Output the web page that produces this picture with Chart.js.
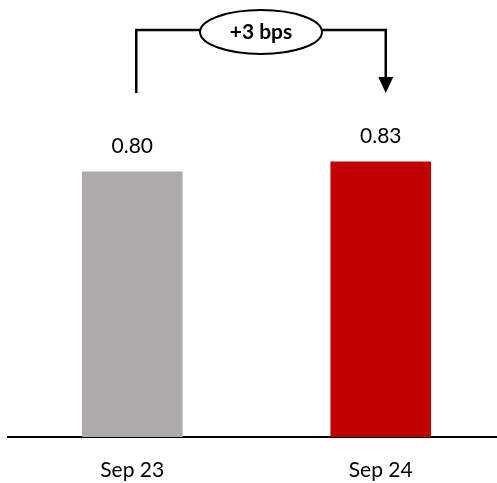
<!DOCTYPE html>
<html>
<head>
<meta charset="utf-8">
<script src="https://cdn.jsdelivr.net/npm/chart.js@4/dist/chart.umd.min.js"></script>
<style>
  html, body { margin: 0; padding: 0; background: #fff; overflow: hidden; }
  #wrap { position: relative; width: 505px; height: 483px; }
</style>
</head>
<body>
<div id="wrap"><canvas id="c"></canvas></div>
<script>
// Periods and ratio values
const categories = ['Sep 23', 'Sep 24'];
const ratioValues = [0.80, 0.83];
const barColors = ['#AEAAAA', '#C00000'];

const FONT = 'Lato, "Open Sans", sans-serif';

// Value labels above each bar
const valueLabels = {
  id: 'valueLabels',
  afterDatasetsDraw(chart) {
    const ctx = chart.ctx;
    const meta = chart.getDatasetMeta(0);
    ctx.save();
    ctx.fillStyle = '#000';
    ctx.font = '21px ' + FONT;
    ctx.textAlign = 'center';
    ctx.textBaseline = 'middle';
    meta.data.forEach((bar, i) => {
      ctx.fillText(ratioValues[i].toFixed(2), bar.x, bar.y - 26);
    });
    ctx.restore();
  }
};

// Change bracket: line from first bar, ellipse badge, arrow down to second bar
const changeBracket = {
  id: 'changeBracket',
  afterDraw(chart) {
    const ctx = chart.ctx;
    const meta = chart.getDatasetMeta(0);
    const x0 = meta.data[0].x + 4;
    const x1 = meta.data[1].x + 5;
    const top = 30;
    const bottom = 93;
    const cx = (x0 + x1) / 2;
    const cy = 32;
    const rx = 61, ry = 22;
    const bps = Math.round((ratioValues[1] - ratioValues[0]) * 100);
    const label = (bps >= 0 ? '+' : '') + bps + ' bps';

    ctx.save();
    ctx.strokeStyle = '#000';
    ctx.fillStyle = '#000';
    ctx.lineWidth = 2.5;
    ctx.lineJoin = 'miter';

    // left leg and line to badge
    ctx.beginPath();
    ctx.moveTo(x0, bottom);
    ctx.lineTo(x0, top);
    ctx.lineTo(cx - rx, top);
    ctx.stroke();

    // line from badge to right leg
    ctx.beginPath();
    ctx.moveTo(cx + rx, top);
    ctx.lineTo(x1, top);
    ctx.lineTo(x1, bottom - 14);
    ctx.stroke();

    // arrow head
    ctx.beginPath();
    ctx.moveTo(x1 - 7.5, bottom - 16);
    ctx.lineTo(x1 + 7.5, bottom - 16);
    ctx.lineTo(x1, bottom);
    ctx.closePath();
    ctx.fill();

    // badge
    ctx.beginPath();
    ctx.ellipse(cx, cy, rx, ry, 0, 0, Math.PI * 2);
    ctx.fillStyle = '#fff';
    ctx.fill();
    ctx.lineWidth = 2;
    ctx.stroke();

    ctx.fillStyle = '#000';
    ctx.font = 'bold 21px ' + FONT;
    ctx.textAlign = 'center';
    ctx.textBaseline = 'middle';
    ctx.fillText(label, cx, cy);
    ctx.restore();
  }
};

new Chart(document.getElementById('c'), {
  type: 'bar',
  data: {
    labels: categories,
    datasets: [{
      data: ratioValues,
      backgroundColor: barColors,
      borderWidth: 0,
      barThickness: 100
    }]
  },
  options: {
    responsive: true,
    maintainAspectRatio: false,
    animation: false,
    layout: { padding: { top: 6, left: 8, right: 0, bottom: 0 } },
    plugins: {
      legend: { display: false },
      tooltip: { enabled: false }
    },
    scales: {
      x: {
        grid: { display: false, drawTicks: false },
        border: { display: true, color: '#000', width: 2 },
        ticks: { color: '#000', font: { family: FONT, size: 21 }, padding: 21 },
        afterFit(scale) { scale.height = 46; }
      },
      y: {
        display: false,
        min: 0,
        max: 1.3
      }
    }
  },
  plugins: [valueLabels, changeBracket]
});
</script>
</body>
</html>
